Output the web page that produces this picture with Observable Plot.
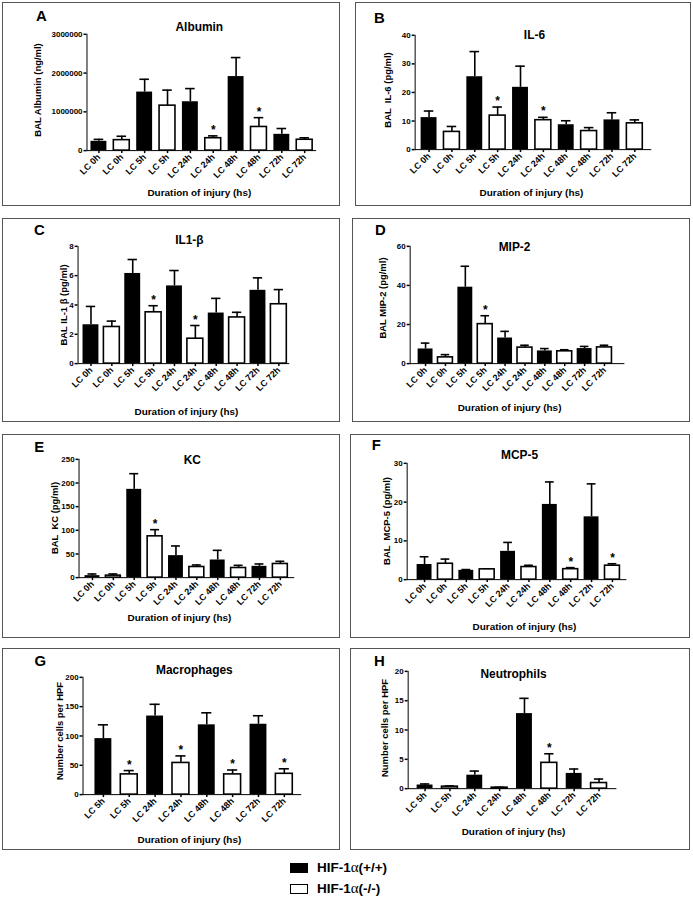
<!DOCTYPE html>
<html><head><meta charset="utf-8">
<script src="https://cdn.jsdelivr.net/npm/d3@7"></script>
<script src="https://cdn.jsdelivr.net/npm/@observablehq/plot@0.6"></script>
<style>
body{margin:0;background:#fff;font-family:"Liberation Sans",Arial,sans-serif;}
#wrap{position:relative;width:693px;height:900px;overflow:hidden;}
.panel{position:absolute;border:1px solid #555;box-sizing:border-box;}
.panel svg{position:absolute;left:-1px;top:-1px;overflow:visible;}
.panel svg g[aria-label*="axis"]{stroke-width:1.5px;}
.panel svg g[aria-label="x-axis tick label"]{font-size:9px;}
.legend{position:absolute;left:290px;top:857px;font-weight:bold;font-size:13.5px;color:#000;}
.legend .row{height:21px;display:flex;align-items:center;}
.legend .sw{display:inline-block;width:18px;height:10px;box-sizing:border-box;margin-right:9px;}
.legend .a{font-family:"Liberation Serif","DejaVu Serif",serif;font-weight:normal;font-size:15px;}
</style></head><body><div id="wrap"></div>
<script>
// ---- categories / tick labels ----
const labels10 = ["LC 0h","LC 0h","LC 5h","LC 5h","LC 24h","LC 24h","LC 48h","LC 48h","LC 72h","LC 72h"];
const labels8 = ["LC 5h","LC 5h","LC 24h","LC 24h","LC 48h","LC 48h","LC 72h","LC 72h"];
const geno10 = ["+/+","-/-","+/+","-/-","+/+","-/-","+/+","-/-","+/+","-/-"];
const geno8 = ["+/+","-/-","+/+","-/-","+/+","-/-","+/+","-/-"];
const legendLabels = ["HIF-1α(+/+)","HIF-1α(-/-)"];

// ---- A: Albumin ----
const albuminMean = [240000,270000,1510000,1160000,1260000,320000,1910000,610000,420000,280000];
const albuminErr  = [290000,370000,1840000,1560000,1600000,380000,2400000,850000,570000,330000];
const albuminSig  = [5,7];
const albuminTicks = [0,1000000,2000000,3000000];
// ---- B: IL-6 ----
const il6Mean = [11.2,6.2,25.5,11.9,21.8,10.3,8.7,6.5,10.4,9.2];
const il6Err  = [13.5,8.1,34.3,14.9,29.2,11.3,10.1,7.7,12.9,10.4];
const il6Sig  = [3,5];
const il6Ticks = [0,10,20,30,40];
// ---- C: IL1-beta ----
const il1bMean = [2.65,2.5,6.15,3.5,5.3,1.7,3.45,3.15,5.0,4.05];
const il1bErr  = [3.9,2.9,7.1,3.95,6.35,2.6,4.45,3.5,5.85,5.05];
const il1bSig  = [3,5];
const il1bTicks = [0,2,4,6,8];
// ---- D: MIP-2 ----
const mip2Mean = [7.5,3.2,39.1,20.2,13.1,8.2,6.5,6.3,7.7,8.3];
const mip2Err  = [10.5,4.6,49.8,24.5,16.5,9.4,7.7,7.1,8.8,9.4];
const mip2Sig  = [3];
const mip2Ticks = [0,20,40,60];
// ---- E: KC ----
const kcMean = [4.2,4.2,186.6,87.3,46.5,22.5,37.3,20.4,23.9,28.9];
const kcErr  = [7.7,7.7,219.7,101.4,66.9,26.8,57.7,26,28.9,34.5];
const kcSig  = [3];
const kcTicks = [0,50,100,150,200,250];
// ---- F: MCP-5 ----
const mcp5Mean = [3.9,4.1,2.4,2.65,7.3,3.25,19.4,2.7,16.2,3.6];
const mcp5Err  = [5.9,5.3,2.6,2.8,9.6,3.7,25.2,3.1,24.7,4.1];
const mcp5Sig  = [7,9];
const mcp5Ticks = [0,10,20,30];
// ---- G: Macrophages ----
const macroMean = [95.5,34.5,134,54,119,34.5,120,35.5];
const macroErr  = [119,41,154,66,139.5,42,134.5,44];
const macroSig  = [1,3,5,7];
const macroTicks = [0,50,100,150,200];
// ---- H: Neutrophils ----
const neutroMean = [0.62,0.34,2.3,0.17,12.8,4.4,2.6,0.96];
const neutroErr  = [0.8,0.45,3.0,0.23,15.4,5.95,3.35,1.64];
const neutroSig  = [5];
const neutroTicks = [0,5,10,15,20];

const XLAB = "Duration of injury (hs)";

// ---- layout (page pixel positions) ----
const panels = [
 {letter:"A", title:"Albumin", ylab:"BAL Albumin (ng/ml)", cats:labels10, geno:geno10, mean:albuminMean, err:albuminErr, sig:albuminSig, ticks:albuminTicks,
  frame:[2,2,340,206], ax:87, yTop:34, y0:151, xR:317, c0:99, cN:306.5, bw:16, L:[41,16], T:[200,27], XL:[200,193], YL:[38,90]},
 {letter:"B", title:"IL-6", ylab:"BAL  IL-6 (pg/ml)", cats:labels10, geno:geno10, mean:il6Mean, err:il6Err, sig:il6Sig, ticks:il6Ticks,
  frame:[355,2,691,206], ax:415, yTop:35, y0:150, xR:652, c0:426, cN:638.3, bw:16, L:[379,18], T:[535,35], XL:[532,193], YL:[388,90]},
 {letter:"C", title:"IL1-β", ylab:"BAL IL-1 β (pg/ml)", cats:labels10, geno:geno10, mean:il1bMean, err:il1bErr, sig:il1bSig, ticks:il1bTicks,
  frame:[2,218,340,422], ax:78, yTop:246, y0:364, xR:290, c0:88.3, cN:282.5, bw:16.5, L:[39,230], T:[190,240], XL:[187,412], YL:[64,305]},
 {letter:"D", title:"MIP-2", ylab:"BAL MIP-2 (pg/ml)", cats:labels10, geno:geno10, mean:mip2Mean, err:mip2Err, sig:mip2Sig, ticks:mip2Ticks,
  frame:[352,218,690,422], ax:410, yTop:246, y0:364, xR:625, c0:421.7, cN:609, bw:16, L:[380,230], T:[515,247], XL:[510,408], YL:[383,298]},
 {letter:"E", title:"KC", ylab:"BAL  KC (pg/ml)", cats:labels10, geno:geno10, mean:kcMean, err:kcErr, sig:kcSig, ticks:kcTicks,
  frame:[2,434,340,638], ax:79, yTop:459, y0:578, xR:295, c0:89, cN:284, bw:15, L:[39,447], T:[193,460], XL:[180,618], YL:[55,518]},
 {letter:"F", title:"MCP-5", ylab:"BAL  MCP-5 (pg/ml)", cats:labels10, geno:geno10, mean:mcp5Mean, err:mcp5Err, sig:mcp5Sig, ticks:mcp5Ticks,
  frame:[350,434,690,638], ax:407, yTop:463, y0:580, xR:627, c0:423, cN:616, bw:15.5, L:[376,445], T:[520,455], XL:[525,627], YL:[387,521]},
 {letter:"G", title:"Macrophages", ylab:"Number cells per HPF", cats:labels8, geno:geno8, mean:macroMean, err:macroErr, sig:macroSig, ticks:macroTicks,
  frame:[2,648,340,850], ax:83, yTop:677, y0:795, xR:302, c0:103, cN:285, bw:17, L:[40,661], T:[195,670], XL:[190,840], YL:[60,731]},
 {letter:"H", title:"Neutrophils", ylab:"Number cells per HPF", cats:labels8, geno:geno8, mean:neutroMean, err:neutroErr, sig:neutroSig, ticks:neutroTicks,
  frame:[350,648,690,850], ax:408, yTop:671, y0:789, xR:617, c0:422, cN:602.7, bw:16.7, L:[379,661], T:[514,674], XL:[514,832], YL:[385,728]}
];

const wrap = document.getElementById("wrap");
const FONT = '"Liberation Sans", Arial, Helvetica, sans-serif';

for (const p of panels) {
  const [fl, ft, fr, fb] = p.frame;
  const W = fr - fl, H = fb - ft;
  const n = p.cats.length;
  const rows = d3.range(n).map(i => ({i, v: p.mean[i], e: p.err[i], g: p.geno[i], s: p.sig.includes(i)}));
  const step = (p.cN - p.c0) / (n - 1);
  const pi = 1 - p.bw / step;
  const r0 = p.c0 - step / 2 - fl, r1 = p.cN + step / 2 - fl;
  const cap = p.bw * 0.2;
  const anno = (txt, xy, opts) => Plot.text([txt], {frameAnchor: "top-left", text: d => d, dx: xy[0] - p.ax, dy: xy[1] - p.yTop, fontWeight: "bold", fill: "black", textAnchor: "middle", lineAnchor: "middle", ...opts});

  const chart = Plot.plot({
    width: W, height: H,
    marginLeft: p.ax - fl, marginRight: fr - p.xR, marginTop: p.yTop - ft, marginBottom: fb - p.y0,
    style: {fontFamily: FONT, fontSize: "8px", fontWeight: "bold", color: "black", background: "transparent", overflow: "visible"},
    x: {type: "band", domain: d3.range(n), range: [r0, r1], paddingInner: pi, paddingOuter: pi / 2, align: 0.5,
        tickFormat: i => p.cats[i], tickRotate: -45, tickSize: 3, tickPadding: 2, label: null, line: true},
    y: {domain: [0, p.ticks[p.ticks.length - 1]], ticks: p.ticks, tickFormat: d => String(d), tickSize: 3, tickPadding: 1.5, label: null, line: true},
    marks: [
      Plot.ruleX(rows, {x: "i", y1: "v", y2: "e", stroke: "black", strokeWidth: 1.6}),
      Plot.tickY(rows, {x: "i", y: "e", stroke: "black", strokeWidth: 1.6, insetLeft: cap, insetRight: cap}),
      Plot.barY(rows, {filter: d => d.g === "+/+", x: "i", y: "v", fill: "black"}),
      Plot.barY(rows, {filter: d => d.g === "-/-", x: "i", y: "v", fill: "white", stroke: "black", strokeWidth: 1.6}),
      Plot.text(rows, {filter: d => d.s, x: "i", y: "e", text: () => "*", dy: -2, lineAnchor: "bottom", fontSize: 12, fontWeight: "bold", fill: "black"}),
      anno(p.letter, p.L, {fontSize: 15}),
      anno(p.title, p.T, {fontSize: 12}),
      anno(XLAB, p.XL, {fontSize: 10}),
      anno(p.ylab, p.YL, {fontSize: 9.5, rotate: -90})
    ]
  });
  const div = document.createElement("div");
  div.className = "panel";
  Object.assign(div.style, {left: fl + "px", top: ft + "px", width: W + "px", height: H + "px"});
  div.appendChild(chart);
  wrap.appendChild(div);
}

// legend
const leg = document.createElement("div");
leg.className = "legend";
legendLabels.forEach((lab, k) => {
  const row = document.createElement("div");
  row.className = "row";
  const sw = document.createElement("span");
  sw.className = "sw";
  if (k === 0) sw.style.background = "#000"; else sw.style.border = "1.5px solid #000";
  row.appendChild(sw);
  const [pre, post] = lab.split("α");
  const t1 = document.createElement("span"); t1.textContent = pre;
  const a = document.createElement("span"); a.className = "a"; a.textContent = "α";
  const t2 = document.createElement("span"); t2.textContent = post;
  row.append(t1, a, t2);
  leg.appendChild(row);
});
wrap.appendChild(leg);
</script>
</body></html>
